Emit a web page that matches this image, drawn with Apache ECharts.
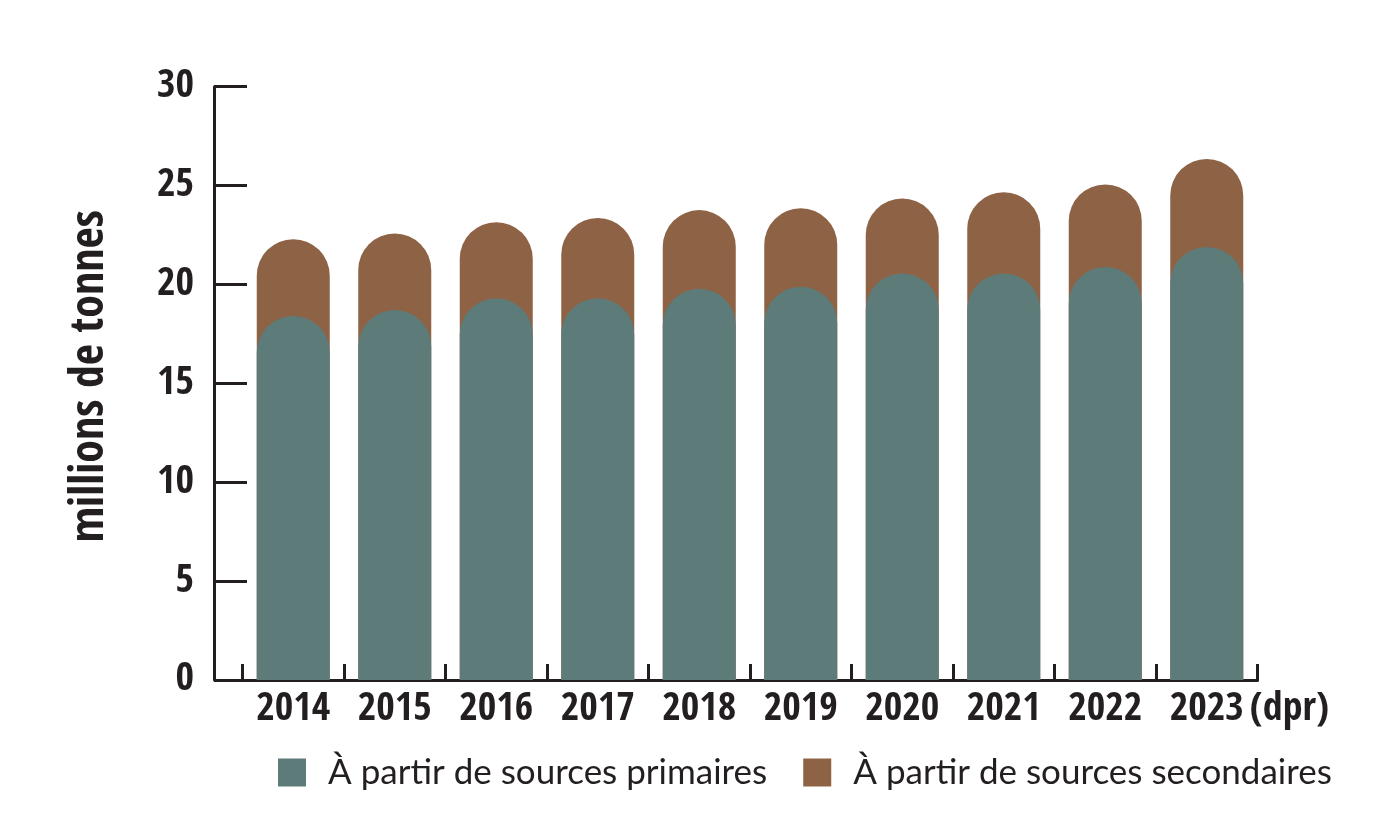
<!DOCTYPE html>
<html>
<head>
<meta charset="utf-8">
<script src="https://cdn.jsdelivr.net/npm/echarts@6/dist/echarts.min.js"></script>
<style>
html,body{margin:0;padding:0;background:#fff;}
#chart{width:1380px;height:837px;}
</style>
</head>
<body>
<div id="chart"></div>
<script>
var years = ['2014','2015','2016','2017','2018','2019','2020','2021','2022','2023'];
var primaryValues = [18.41, 18.71, 19.30, 19.30, 19.78, 19.88, 20.56, 20.56, 20.88, 21.90];
var secondaryValues = [3.88, 3.87, 3.85, 4.06, 3.98, 3.97, 3.79, 4.10, 4.18, 4.45];
var yTicks = [0, 5, 10, 15, 20, 25, 30];
var seriesNames = ['À partir de sources primaires', 'À partir de sources secondaires'];
var yTitle = 'millions de tonnes';
var lastSuffix = '(dpr)';

var totals = primaryValues.map(function(v, i){ return +(v + secondaryValues[i]).toFixed(2); });

var INK = '#231f20';
var GREEN = '#5d7b78';
var BROWN = '#8e6245';
var COND = '"Open Sans Condensed", "Roboto Condensed", "DejaVu Sans Condensed", sans-serif';
var REG = '"Open Sans SemiCondensed", Lato, sans-serif';

var chart = echarts.init(document.getElementById('chart'));
chart.setOption({
  animation: false,
  backgroundColor: '#fff',
  grid: { left: 242.5, right: 122.5, top: 86.7, bottom: 157, containLabel: false },
  legend: {
    data: seriesNames,
    left: 278, top: 755, padding: 0,
    itemWidth: 28, itemHeight: 28, itemGap: 36,
    icon: 'rect',
    textStyle: { fontFamily: REG, fontSize: 35, color: INK, padding: [0,0,0,17] }
  },
  xAxis: {
    type: 'category',
    data: years,
    boundaryGap: true,
    axisLine: { lineStyle: { color: INK, width: 3 } },
    axisTick: { show: true, inside: true, length: 16, interval: 0,
      lineStyle: { color: INK, width: 3 } },
    axisLabel: {
      interval: 0,
      margin: 10,
      fontFamily: COND, fontWeight: 'bold', fontSize: 40, color: INK,
      formatter: function(v, i){
        if (i === years.length - 1) return '{h|' + lastSuffix + '}' + v + '{s|' + lastSuffix + '}';
        return v;
      },
      rich: {
        h: { fontFamily: COND, fontWeight: 'bold', fontSize: 40, color: 'rgba(0,0,0,0)', padding: [0, 6, 0, 0] },
        s: { fontFamily: COND, fontWeight: 'bold', fontSize: 40, color: INK, padding: [0, 0, 0, 6] }
      }
    }
  },
  yAxis: {
    type: 'value',
    min: 0, max: 30, interval: 5,
    offset: 28.5,
    name: yTitle,
    nameLocation: 'middle',
    nameRotate: 90,
    nameGap: 100,
    nameTextStyle: { fontFamily: COND, fontWeight: 'bold', fontSize: 46, color: INK, padding: [0, 0, 0, 14] },
    axisLine: { show: true, lineStyle: { color: INK, width: 3 } },
    axisTick: { show: true, inside: true, length: 33, lineStyle: { color: INK, width: 3 } },
    splitLine: { show: false },
    axisLabel: {
      margin: 20,
      fontFamily: COND, fontWeight: 'bold', fontSize: 40, color: INK,
      formatter: function(v){ return yTicks.indexOf(v) >= 0 ? String(v) : ''; }
    }
  },
  series: [
    {
      name: seriesNames[0], type: 'bar', data: primaryValues,
      barWidth: 73, barGap: '-100%', z: 3,
      itemStyle: { color: GREEN, borderRadius: [37, 37, 0, 0] }
    },
    {
      name: seriesNames[1], type: 'bar', data: totals,
      barWidth: 73, barGap: '-100%', z: 2,
      itemStyle: { color: BROWN, borderRadius: [37, 37, 0, 0] }
    }
  ]
});
</script>
</body>
</html>
